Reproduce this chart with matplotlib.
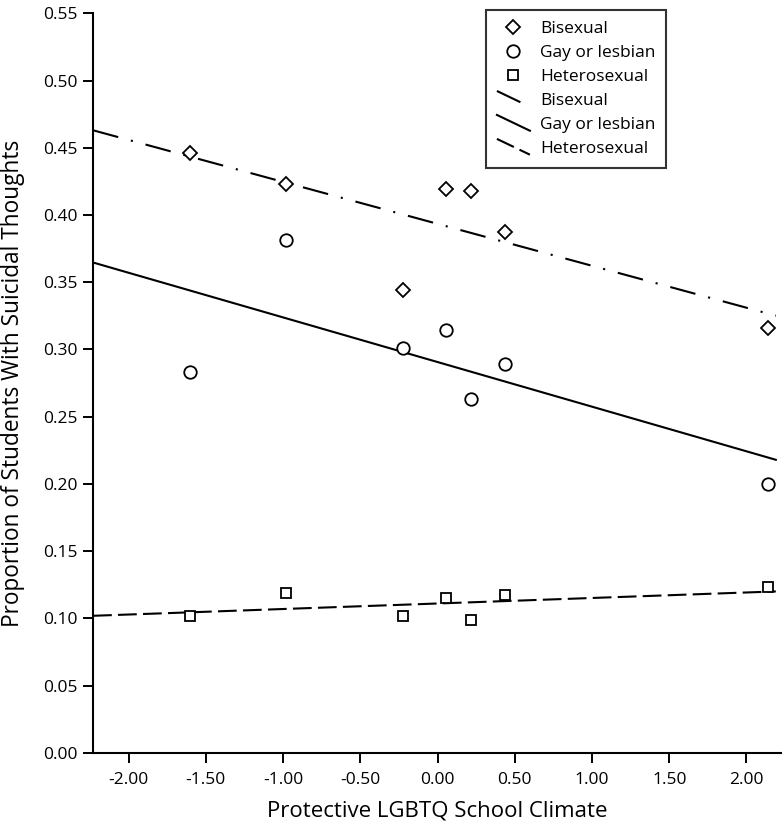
import numpy as np
import matplotlib
matplotlib.use("Agg")
import matplotlib.pyplot as plt
from matplotlib.lines import Line2D
from matplotlib.legend_handler import HandlerBase

plt.rcParams['font.family'] = ['Open Sans', 'DejaVu Sans']

# school climate score for each of the seven points
climate = [-1.60, -0.98, -0.225, 0.056, 0.214, 0.438, 2.14]

bisexual = [0.446, 0.423, 0.344, 0.419, 0.418, 0.387, 0.316]
gay_lesbian = [0.283, 0.381, 0.301, 0.3145, 0.263, 0.289, 0.200]
heterosexual = [0.102, 0.119, 0.102, 0.115, 0.099, 0.117, 0.123]

# fitted lines: intercept, slope
bi_fit = (0.3934, -0.0312)
gl_fit = (0.2906, -0.0332)
het_fit = (0.1110, 0.0041)
fit_range = [-2.23, 2.19]

labels = ['Bisexual', 'Gay or lesbian', 'Heterosexual']


class SlantedLine(HandlerBase):
    # legend line samples in the original are drawn on a slant
    def create_artists(self, legend, orig_handle, xdescent, ydescent,
                       width, height, fontsize, trans):
        line = Line2D([-xdescent, -xdescent + width],
                      [height * 1.15 - ydescent, -0.15 * height - ydescent])
        self.update_prop(line, orig_handle, legend)
        line.set_transform(trans)
        return [line]


fig = plt.figure(figsize=(7.82, 8.25), dpi=100)
ax = fig.add_axes([0.119, 0.0876, 0.881, 0.8963])

mk = dict(linestyle='none', markerfacecolor='white', markeredgecolor='black',
          markeredgewidth=1.3, zorder=3)
h1, = ax.plot(climate, bisexual, marker='D', markersize=7, label=labels[0], **mk)
h2, = ax.plot(climate, gay_lesbian, marker='o', markersize=9, label=labels[1], **mk)
h3, = ax.plot(climate, heterosexual, marker='s', markersize=6.5, label=labels[2], **mk)

xs = np.array(fit_range)
l1, = ax.plot(xs, bi_fit[0] + bi_fit[1] * xs, color='black', lw=1.5,
              dashes=(12.5, 6.3, 1, 6.3), label=labels[0])
l2, = ax.plot(xs, gl_fit[0] + gl_fit[1] * xs, color='black', lw=1.5,
              label=labels[1])
l3, = ax.plot(xs, het_fit[0] + het_fit[1] * xs, color='black', lw=1.5,
              dashes=(9, 3), label=labels[2])

ax.set_xlim(-2.23, 2.23)
ax.set_ylim(0, 0.55)
ax.set_xticks(np.arange(-2, 2.01, 0.5))
ax.set_yticks(np.arange(0, 0.551, 0.05))
ax.xaxis.set_major_formatter(plt.FormatStrFormatter('%.2f'))
ax.yaxis.set_major_formatter(plt.FormatStrFormatter('%.2f'))
ax.tick_params(direction='out', length=7, width=1.4, labelsize=12.5, pad=4)
ax.tick_params(axis='x', pad=7)

for s in ['top', 'right']:
    ax.spines[s].set_visible(False)
for s in ['left', 'bottom']:
    ax.spines[s].set_linewidth(1.5)

ax.set_xlabel('Protective LGBTQ School Climate', fontsize=16, labelpad=9)
ax.set_ylabel('Proportion of Students With Suicidal Thoughts', fontsize=16.3, labelpad=13)

sl = SlantedLine()
leg = ax.legend([h1, h2, h3, l1, l2, l3], labels * 2,
                loc='upper left', bbox_to_anchor=(0.558, 1.016),
                fontsize=12.5, frameon=True, fancybox=False, edgecolor='black',
                handlelength=1.9, handletextpad=0.6, labelspacing=0.45,
                borderpad=0.62, handler_map={l1: sl, l2: sl, l3: sl})
leg.get_frame().set_linewidth(1.5)

fig.savefig('out.png', dpi=100)
